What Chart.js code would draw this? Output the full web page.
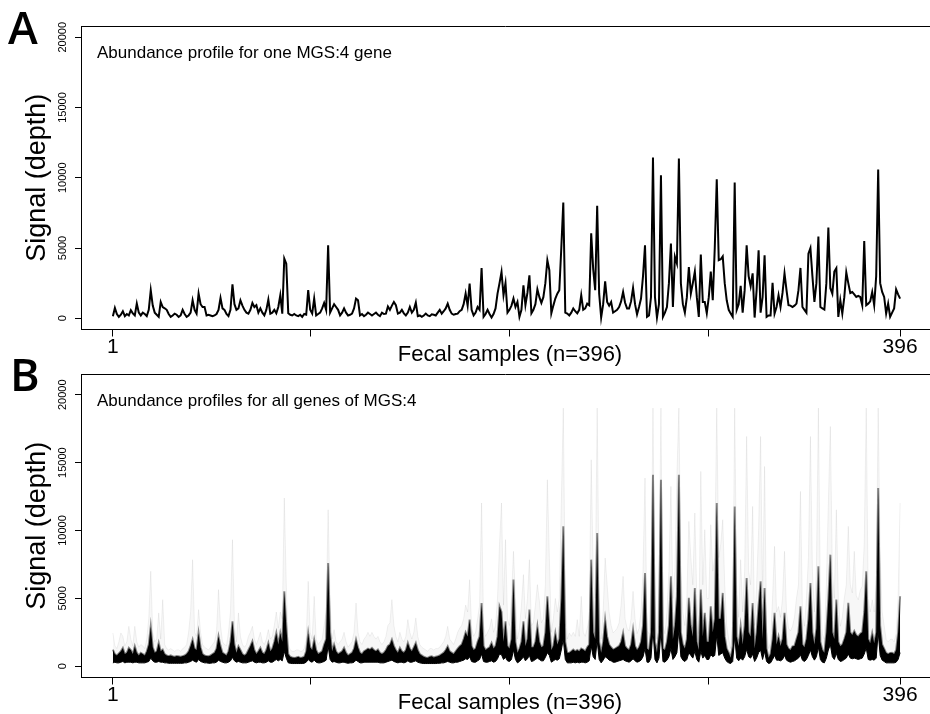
<!DOCTYPE html>
<html><head><meta charset="utf-8">
<script src="https://cdn.jsdelivr.net/npm/chart.js@4.4.1/dist/chart.umd.min.js"></script>
<style>
html,body{margin:0;padding:0;background:#fff;overflow:hidden;width:930px;height:714px;}
.wrap{position:absolute;left:0;width:930px;}
canvas{display:block;}
</style></head><body>
<div class="wrap" style="top:0;height:370px"><canvas id="ca" width="930" height="370"></canvas></div>
<div class="wrap" style="top:348px;height:366px"><canvas id="cb" width="930" height="366"></canvas></div>
<script>
// ---------- data ----------
const sampleTicks = [1, 100, 200, 300, 396];
const sampleTickLabels = {1: '1', 396: '396'};
const yTicks = [0, 5000, 10000, 15000, 20000];

// Panel A: one gene (samples 1..396)
const aSignal = [
150,735,300,100,250,500,150,300,200,570,
350,200,1045,400,200,400,300,150,600,1990,
900,400,250,100,1160,800,710,600,300,100,
200,330,250,100,200,600,300,100,200,400,
1280,600,330,1755,1000,800,800,200,250,200,
150,200,300,600,1450,700,600,300,150,600,
2420,1000,600,700,1280,900,600,400,330,600,
1090,800,930,400,700,400,200,600,1330,330,
400,600,350,800,1640,330,4250,3890,350,250,
200,300,200,150,250,100,300,250,2000,600,
330,1400,200,300,400,700,1090,600,5200,400,
700,1000,800,600,200,400,700,400,200,250,
330,700,1400,1280,200,300,150,250,400,300,
200,300,400,250,150,400,300,330,840,600,
900,1160,930,330,400,600,350,200,400,800,
400,600,1110,150,200,100,200,330,200,150,
280,250,200,400,600,330,500,700,1040,600,
330,250,300,330,500,600,1000,1755,900,2470,
600,200,400,800,600,3580,100,300,600,300,
50,300,700,1750,2500,3300,1640,2500,400,600,
900,1400,800,1160,100,600,2350,930,1800,3060,
350,600,1000,2060,1500,1090,1500,2500,4130,3420,
350,900,1400,1750,2000,5000,8240,400,330,200,
400,700,500,350,600,1640,600,700,1040,930,
6050,3500,2000,8010,1750,50,1000,2630,1160,900,
1160,400,500,600,800,1200,1870,1100,700,700,
1200,2160,1000,280,800,1400,3000,5200,100,200,
1500,11440,1500,50,1000,10180,100,400,800,2500,
5310,800,4370,3900,11370,2470,1000,400,1500,3650,
1750,2500,3320,1500,100,4530,1160,1160,350,1500,
3320,1280,5000,9900,4130,4200,4400,2500,1280,600,
330,100,9660,600,1000,2300,400,2000,5200,3000,
2280,3200,50,2000,4840,400,1500,4480,100,200,
200,2520,330,800,1640,800,1800,3200,2000,930,
900,800,900,1040,2000,3580,800,600,400,4600,
5000,3000,1160,2500,5810,800,700,620,2500,6450,
2140,1750,3320,3560,100,1280,330,1500,3270,2500,
1800,1870,1700,1520,1600,1520,930,5500,930,1040,
1200,1870,930,3000,10590,2500,1870,1520,330,1040,
100,400,700,2060,1700,1400];

// Panel B: all genes -- lower edge of dense band
const bLow = [
250,300,250,250,300,350,250,300,300,300,
250,300,300,250,250,250,250,300,350,600,
400,300,300,350,300,300,250,250,220,220,
220,220,220,220,220,220,250,250,300,350,
450,350,300,500,350,300,250,250,220,220,
250,250,300,450,350,300,250,250,300,400,
650,400,300,350,300,250,250,250,300,350,
400,300,250,300,300,250,250,300,400,300,
300,400,500,400,500,400,1100,600,250,220,
200,200,200,200,200,200,220,300,500,350,
300,450,300,250,250,300,350,450,1500,500,
300,350,300,250,250,300,300,250,220,250,
250,300,450,350,250,250,300,300,300,300,
300,300,300,300,250,250,250,300,350,400,
450,350,300,250,300,300,250,300,400,300,
300,350,400,300,250,220,200,200,200,200,
200,200,200,220,220,250,250,300,350,300,
250,250,300,300,350,400,450,550,500,700,
350,300,300,400,500,900,350,300,300,350,
400,300,350,550,900,850,500,650,400,350,
500,1200,500,250,350,500,700,400,550,800,
350,400,500,600,500,400,400,650,1000,800,
300,400,500,450,550,1200,2000,500,250,250,
250,300,250,300,250,300,300,250,300,400,
1500,700,500,1900,500,250,450,700,600,450,
400,300,300,350,400,450,500,400,350,300,
400,550,400,300,350,450,700,1300,300,300,
600,2700,500,250,600,2600,350,300,450,700,
1300,500,700,1000,2700,700,450,350,500,1000,
800,600,1100,500,300,1100,600,800,500,500,
850,700,800,2300,800,900,1000,600,350,250,
200,350,2200,600,400,600,450,700,1250,700,
600,900,350,600,1000,1200,500,1100,350,200,
250,500,800,450,450,400,500,800,450,350,
300,350,400,500,600,850,450,350,500,800,
1200,700,450,700,1400,500,300,250,600,1200,
1600,700,500,950,500,350,400,500,600,900,
600,550,600,550,500,550,600,900,1350,500,
450,500,450,600,2500,800,450,350,250,250,
250,250,250,300,500,1000];

// Panel B: upper edge of dense band
const bHigh = [
1230,900,800,950,1104,1354,900,1000,1354,1200,
900,1472,1000,800,986,900,800,1100,1600,2944,
1400,1000,1100,1720,1100,1230,900,800,750,800,
736,700,760,736,700,750,800,900,1100,1500,
1965,1300,1200,2455,1400,900,800,750,736,800,
900,1000,1300,2208,1500,1000,900,800,1100,1800,
3312,1600,1000,1472,1200,900,800,900,1200,1500,
1840,1200,900,1100,1354,1000,900,1200,1720,1100,
1300,1800,2455,1600,2455,1800,5520,3000,900,700,
650,618,650,700,618,650,700,1100,2455,1400,
1200,1965,1200,900,1000,1100,1600,2000,7610,2500,
1100,1597,1100,900,1000,1100,1354,1000,800,900,
1000,1300,1965,1400,1000,900,1100,1200,1300,1230,
1354,1200,1100,1230,1000,900,1000,1200,1500,1600,
1965,1500,1200,1000,1354,1100,1000,1200,1720,1300,
1100,1400,1720,1200,900,800,700,650,618,700,
736,650,700,736,800,900,1000,1200,1472,1100,
1000,900,1100,1300,1472,1600,2000,2500,2200,3437,
1500,1200,1300,1800,2200,4664,1500,1200,1300,1400,
1720,1300,1500,2200,4416,4000,1800,3312,1500,1300,
2000,6380,1800,986,1300,1800,3312,1500,2000,4173,
1400,1400,1800,2944,1800,1400,1500,2500,5152,3000,
1200,1500,2455,1600,2000,5000,10304,1800,1000,986,
1100,1230,1100,1200,1100,1300,1230,1100,1400,1600,
7853,2500,2000,9818,1800,1000,1800,3437,2200,1600,
1400,1230,1300,1400,1500,1800,2455,1500,1300,1200,
1600,2701,1500,1200,1400,1800,3000,6874,1300,1200,
2500,14109,1800,1000,2500,13741,1300,1200,1800,3000,
6624,2000,3000,5152,14109,2500,1600,1300,2000,5034,
3000,2200,5770,1800,1200,5645,2200,3930,1800,1800,
4416,2500,3500,12026,3500,3500,5402,2200,1300,1000,
618,1500,11776,2200,1500,2944,1600,3000,6506,2500,
2200,4664,1300,2500,4500,6256,2000,5770,1300,618,
900,2000,3930,1600,2208,1500,2000,3930,1600,1300,
1200,1472,1500,2000,2500,4416,1600,1400,2000,3500,
6130,2500,1600,2800,7360,1800,1200,986,2500,5000,
8221,2500,2000,4909,1800,1472,1600,2000,2500,4664,
2500,2300,2600,2300,2200,2400,2500,4000,6992,2000,
1700,2455,1700,2500,13130,3000,1600,1300,986,900,
986,1000,900,1200,2500,5152];

// Panel B: faint maximum over all genes
const bMax = [
2455,1500,1300,1800,2455,2200,1500,1800,2944,2000,
1500,2944,1800,1400,1600,1500,1300,2000,3500,7000,
2500,1800,2000,3930,2000,4909,1600,1300,1200,1300,
1200,1100,1200,1200,1100,1300,1400,1600,2500,4000,
7853,2500,2200,4173,2500,1600,1400,1300,1200,1400,
1600,1800,2500,5645,3000,1800,1600,1500,2500,4000,
9325,3000,1800,3930,2200,1600,1400,1600,2200,2500,
2944,2000,1600,2000,2500,1800,1600,2000,2701,2000,
2200,3000,4000,2800,4000,3500,12394,6000,1600,1200,
1100,1100,1200,1200,1100,1100,1300,2000,6256,2500,
2000,5152,2000,1600,1800,2000,3000,4000,11533,4500,
2000,2701,1800,1600,1800,2000,2500,1800,1400,1600,
1800,2500,4664,2500,1800,1600,2000,2200,2500,2200,
2500,2200,2000,2200,1800,1600,1800,2200,3000,3200,
4909,3000,2200,1800,2500,2000,1800,2200,3437,2500,
2000,2500,3562,2200,1600,1400,1300,1200,1100,1300,
1300,1200,1300,1300,1400,1600,1800,2200,2944,2000,
1800,1600,2000,2500,2800,3000,3500,4500,4000,6380,
2800,2200,2500,3500,4500,12026,3000,2200,2500,2800,
3500,2500,3000,5000,9000,12026,4500,9325,3500,3000,
5000,8464,5000,2000,2800,4500,6749,3500,5000,7853,
3000,3200,4500,6013,4800,3200,3500,6000,13741,8000,
2500,3500,5000,4000,5000,12000,19018,5000,2000,2455,
2200,2500,2200,3437,2200,5152,2500,2200,2800,3500,
15213,7000,5000,19018,5000,2000,4000,7978,6000,4000,
3000,2455,2600,2800,3200,4500,6624,3500,2800,2600,
3500,5520,3500,2400,2800,4000,7000,13866,2600,2400,
6000,19018,5000,2000,6000,19018,3000,2400,4000,7000,
13248,5000,7000,13984,19018,7000,4000,3000,5000,10672,
8000,6000,11290,5000,2400,14352,6000,10061,5000,5000,
10429,7000,8000,19018,8000,9000,10797,6000,3000,2000,
1300,3000,19018,6000,3600,7853,4000,7000,16928,7000,
6000,11776,3000,6000,10000,16928,5000,14720,3000,1300,
1800,5000,8832,4000,4400,3600,5000,8464,4000,2800,
2600,2944,3600,5000,6000,12880,4000,2944,5000,8000,
16928,7000,4000,7000,19018,5000,2400,1972,6000,12000,
17664,7000,5000,11533,5000,2944,3600,5000,6000,10304,
6000,5400,8464,5200,4900,5600,5900,9000,19018,5000,
4000,4900,4000,6000,19018,8000,4000,3000,1972,1800,
1972,2000,1800,2400,5000,12026];

// ---------- helpers ----------
const FONT = "'Liberation Sans', Arial, Helvetica, sans-serif";
const NARROW = "'Liberation Sans Narrow', 'Liberation Sans', Arial, sans-serif";
const toPts = arr => arr.map((v, i) => ({x: i + 1, y: v}));

const mctx = document.createElement('canvas').getContext('2d');
mctx.font = "11px " + NARROW;
const wTick = mctx.measureText('20000').width;
const yTickPad = 12 - wTick / 2;

const decor = {
  id: 'decor',
  afterDraw(chart, args, o) {
    const {ctx, chartArea: ca} = chart;
    ctx.save();
    ctx.strokeStyle = '#000'; ctx.lineWidth = 1;
    ctx.beginPath(); ctx.moveTo(ca.left, Math.round(ca.top) + 0.5); ctx.lineTo(ca.right, Math.round(ca.top) + 0.5); ctx.stroke();
    ctx.fillStyle = '#000';
    ctx.textAlign = 'left'; ctx.textBaseline = 'alphabetic';
    ctx.font = "600 45px 'Open Sans', Lato, sans-serif";
    ctx.fillText(o.letter, o.letterX, o.letterY);
    ctx.font = "17px " + FONT;
    ctx.fillText(o.title, 97, ca.top + 32);
    ctx.font = "22px " + FONT;
    ctx.textAlign = 'center'; ctx.textBaseline = 'middle';
    ctx.fillText('Fecal samples (n=396)', 510, ca.bottom + o.xTitleDy);
    ctx.restore();
  }
};

function makeOptions(H, yMin, yMax, deco) {
  return {
    responsive: false, animation: false, events: [],
    layout: {padding: {top: 26, left: 0, right: 0, bottom: 0}},
    plugins: {legend: {display: false}, tooltip: {enabled: false}, decor: deco},
    scales: {
      x: {
        type: 'linear', min: -15, max: 411,
        afterBuildTicks: s => { s.ticks = sampleTicks.map(v => ({value: v})); },
        afterFit: s => { s.height = H - 329.5; },
        grid: {drawOnChartArea: false, drawTicks: true, tickLength: 7, color: '#000', lineWidth: 1},
        border: {display: true, color: '#000', width: 1},
        ticks: {color: '#000', autoSkip: false, maxRotation: 0, padding: 0,
          font: {family: FONT, size: 21, lineHeight: 1},
          callback: v => sampleTickLabels[v] || ''}
      },
      y: {
        min: yMin, max: yMax,
        afterBuildTicks: s => { s.ticks = yTicks.map(v => ({value: v})); },
        afterFit: s => { s.width = 81; },
        grid: {drawOnChartArea: false, drawTicks: true, tickLength: 6, color: '#000', lineWidth: 1},
        border: {display: true, color: '#000', width: 1},
        ticks: {color: '#000', autoSkip: false, minRotation: 90, maxRotation: 90, crossAlign: 'center',
          padding: yTickPad, font: {family: NARROW, size: 11}, callback: v => String(v)},
        title: {display: true, text: 'Signal (depth)', color: '#000',
          font: {family: FONT, size: 27, lineHeight: 1.2}, padding: {top: 21, bottom: 0}}
      }
    }
  };
}

new Chart(document.getElementById('ca'), {
  type: 'line',
  data: {datasets: [{
    label: 'One MGS:4 gene', data: toPts(aSignal), borderColor: '#000', borderWidth: 2,
    pointRadius: 0, tension: 0, fill: false
  }]},
  options: makeOptions(370, -800, 20800,
    {letter: 'A', letterX: 8, letterY: 44, title: 'Abundance profile for one MGS:4 gene', xTitleDy: 25}),
  plugins: [decor]
});

new Chart(document.getElementById('cb'), {
  type: 'line',
  data: {datasets: [
    {label: 'band low', data: toPts(bLow), borderColor: '#000', borderWidth: 1,
      pointRadius: 0, tension: 0, fill: false, order: 1},
    {label: 'band high', data: toPts(bHigh), borderColor: 'rgba(0,0,0,0.45)', borderWidth: 2,
      backgroundColor: '#000', pointRadius: 0, tension: 0, fill: 0, order: 2},
    {label: 'max', data: toPts(bMax), borderColor: 'rgba(0,0,0,0.06)', borderWidth: 1,
      backgroundColor: 'rgba(0,0,0,0.03)', pointRadius: 0, tension: 0, fill: 1, order: 3}
  ]},
  options: makeOptions(366, -828, 21528,
    {letter: 'B', letterX: 10, letterY: 43, title: 'Abundance profiles for all genes of MGS:4', xTitleDy: 25}),
  plugins: [decor]
});
</script>
</body></html>
